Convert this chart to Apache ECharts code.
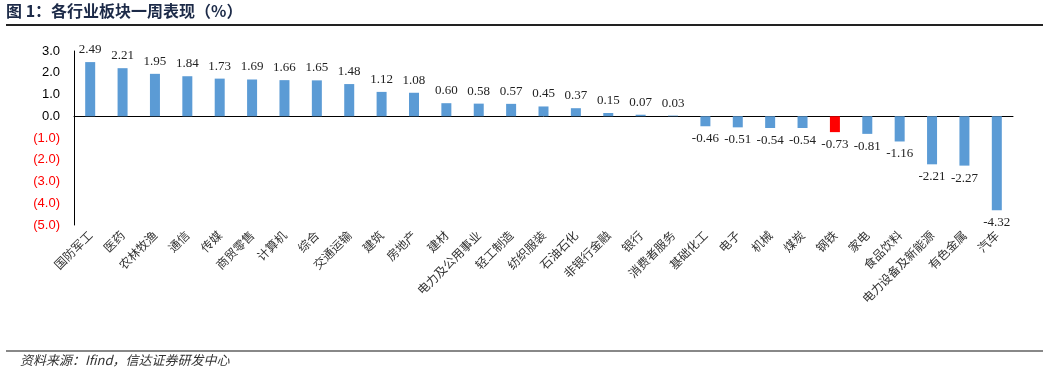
<!DOCTYPE html>
<html>
<head>
<meta charset="utf-8">
<script src="https://cdn.jsdelivr.net/npm/echarts@6/dist/echarts.min.js"></script>
<style>html,body{margin:0;padding:0;background:#fff;}#c{width:1049px;height:375px;}</style>
</head>
<body>
<div id="c"></div>
<script>
const categories = ['国防军工','医药','农林牧渔','通信','传媒','商贸零售','计算机','综合','交通运输','建筑','房地产','建材','电力及公用事业','轻工制造','纺织服装','石油石化','非银行金融','银行','消费者服务','基础化工','电子','机械','煤炭','钢铁','家电','食品饮料','电力设备及新能源','有色金属','汽车'];
const values = [2.49,2.21,1.95,1.84,1.73,1.69,1.66,1.65,1.48,1.12,1.08,0.60,0.58,0.57,0.45,0.37,0.15,0.07,0.03,-0.46,-0.51,-0.54,-0.54,-0.73,-0.81,-1.16,-2.21,-2.27,-4.32];
const highlight = ['钢铁'];
const yTicks = {min:-5, max:3, interval:1};
const titleText = '图 1：各行业板块一周表现（%）';
const sourceText = '资料来源：Ifind，信达证券研发中心';

const chart = echarts.init(document.getElementById('c'));
chart.setOption({
  animation:false,
  backgroundColor:'#fff',
  grid:{left:74, right:36, top:51, bottom:150, containLabel:false},
  xAxis:{
    type:'category', data:categories,
    axisLine:{onZero:true, lineStyle:{color:'#000', width:1}},
    axisTick:{show:false},
    axisLabel:{rotate:45, interval:0, fontFamily:'"Noto Sans CJK SC"', fontSize:12, color:'#333', margin:8}
  },
  yAxis:{
    type:'value', min:yTicks.min, max:yTicks.max, interval:yTicks.interval,
    splitLine:{show:false},
    axisLine:{show:true, lineStyle:{color:'#000', width:1}},
    axisTick:{show:false},
    axisLabel:{
      fontFamily:'"Liberation Sans", Arial', fontSize:13, margin:14,
      formatter:v => v < 0 ? '(' + Math.abs(v).toFixed(1) + ')' : v.toFixed(1),
      color:v => v < 0 ? '#ff0000' : '#000'
    }
  },
  series:[{
    type:'bar', barWidth:10,
    data:values.map((v,i)=>({
      value:v,
      itemStyle:{color: highlight.includes(categories[i]) ? '#ff0000' : '#5b9bd5'},
      label:{position: v < 0 ? 'bottom' : 'top'}
    })),
    label:{show:true, fontFamily:'"Liberation Serif", "Times New Roman"', fontSize:13, color:'#222', distance:6,
      formatter:p => p.value.toFixed(2)}
  }],
  graphic:[
    {type:'text', left:6, top:3, style:{text:titleText, font:'bold 16px "Noto Sans CJK SC"', fill:'#1c2a48'}},
    {type:'line', shape:{x1:6, y1:25, x2:1043, y2:25}, style:{stroke:'#222', lineWidth:2}},
    {type:'line', shape:{x1:6, y1:351, x2:1043, y2:351}, style:{stroke:'#888', lineWidth:2}},
    {type:'text', left:20, top:354, style:{text:sourceText, font:'italic 13px "Noto Sans CJK SC"', fill:'#333'}}
  ]
});
</script>
</body>
</html>
